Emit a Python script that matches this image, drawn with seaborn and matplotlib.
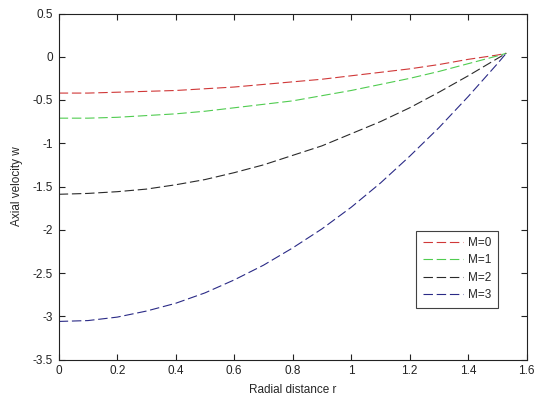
import numpy as np
import pandas as pd
import seaborn as sns
import matplotlib
matplotlib.use("Agg")
import matplotlib.pyplot as plt
from matplotlib.ticker import FormatStrFormatter, MultipleLocator

# Radial positions and axial velocity profiles for each M
r = [0.0, 0.1, 0.2, 0.3, 0.4, 0.5, 0.6, 0.7, 0.8, 0.9, 1.0,
     1.1, 1.2, 1.3, 1.4, 1.5, 1.53]
w_m0 = [-0.42, -0.42, -0.41, -0.40, -0.39, -0.37, -0.35, -0.32, -0.29,
        -0.26, -0.22, -0.18, -0.14, -0.09, -0.03, 0.02, 0.04]
w_m1 = [-0.71, -0.71, -0.70, -0.68, -0.66, -0.63, -0.59, -0.55, -0.51,
        -0.45, -0.39, -0.32, -0.25, -0.17, -0.08, 0.01, 0.04]
w_m2 = [-1.59, -1.58, -1.56, -1.53, -1.48, -1.42, -1.34, -1.25, -1.14,
        -1.03, -0.89, -0.75, -0.59, -0.41, -0.22, -0.02, 0.04]
w_m3 = [-3.06, -3.05, -3.01, -2.94, -2.85, -2.73, -2.58, -2.41, -2.21,
        -1.99, -1.74, -1.46, -1.15, -0.82, -0.46, -0.08, 0.04]

labels = ["M=0", "M=1", "M=2", "M=3"]
series = [w_m0, w_m1, w_m2, w_m3]
colors = ["#d03838", "#50cc50", "#2a2a2a", "#2a2a86"]

df = pd.concat(
    [pd.DataFrame({"r": r, "w": s, "M": lab}) for lab, s in zip(labels, series)],
    ignore_index=True,
)

sns.set_style("ticks")
plt.rcParams["font.family"] = ["Liberation Sans", "DejaVu Sans"]
plt.rcParams["axes.unicode_minus"] = False
plt.rcParams["lines.scale_dashes"] = False
plt.rcParams["lines.dashed_pattern"] = [6.8, 2.7]

fig = plt.figure(figsize=(5.36, 4.01), dpi=100)
fig.patch.set_facecolor("white")
ax = fig.add_axes([58.7 / 536, 1 - 359.5 / 401, 468 / 536, 346 / 401])

sns.lineplot(
    data=df, x="r", y="w", hue="M", hue_order=labels,
    palette=dict(zip(labels, colors)), linestyle="--", linewidth=0.8,
    ax=ax, legend=False, estimator=None, sort=False,
)

for lab, col in zip(labels, colors):
    ax.plot([], [], linestyle="--", linewidth=0.8, color=col, label=lab)

ax.set_xlim(0, 1.6)
ax.set_ylim(-3.5, 0.5)
ax.xaxis.set_major_locator(MultipleLocator(0.2))
ax.yaxis.set_major_locator(MultipleLocator(0.5))
ax.xaxis.set_major_formatter(FormatStrFormatter("%g"))
ax.yaxis.set_major_formatter(FormatStrFormatter("%g"))

for side in ["top", "right", "bottom", "left"]:
    ax.spines[side].set_visible(True)
    ax.spines[side].set_color("#222222")
    ax.spines[side].set_linewidth(0.8)

ax.tick_params(direction="in", length=4, width=0.8, top=True, right=True,
               labelsize=8.5, colors="#222222", pad=4)

ax.set_xlabel("Radial distance r", fontsize=8.5, labelpad=5)
ax.set_ylabel("Axial velocity w", fontsize=8.5, labelpad=7)

leg = ax.legend(
    loc="lower right", bbox_to_anchor=(0.938, 0.150), borderaxespad=0,
    fontsize=8.5, handlelength=3.4, handletextpad=0.4, labelspacing=0.45,
    borderpad=0.55, fancybox=False, frameon=True,
)
leg.get_frame().set_edgecolor("#111111")
leg.get_frame().set_linewidth(0.8)

fig.savefig("out.png", dpi=100, facecolor="white")
